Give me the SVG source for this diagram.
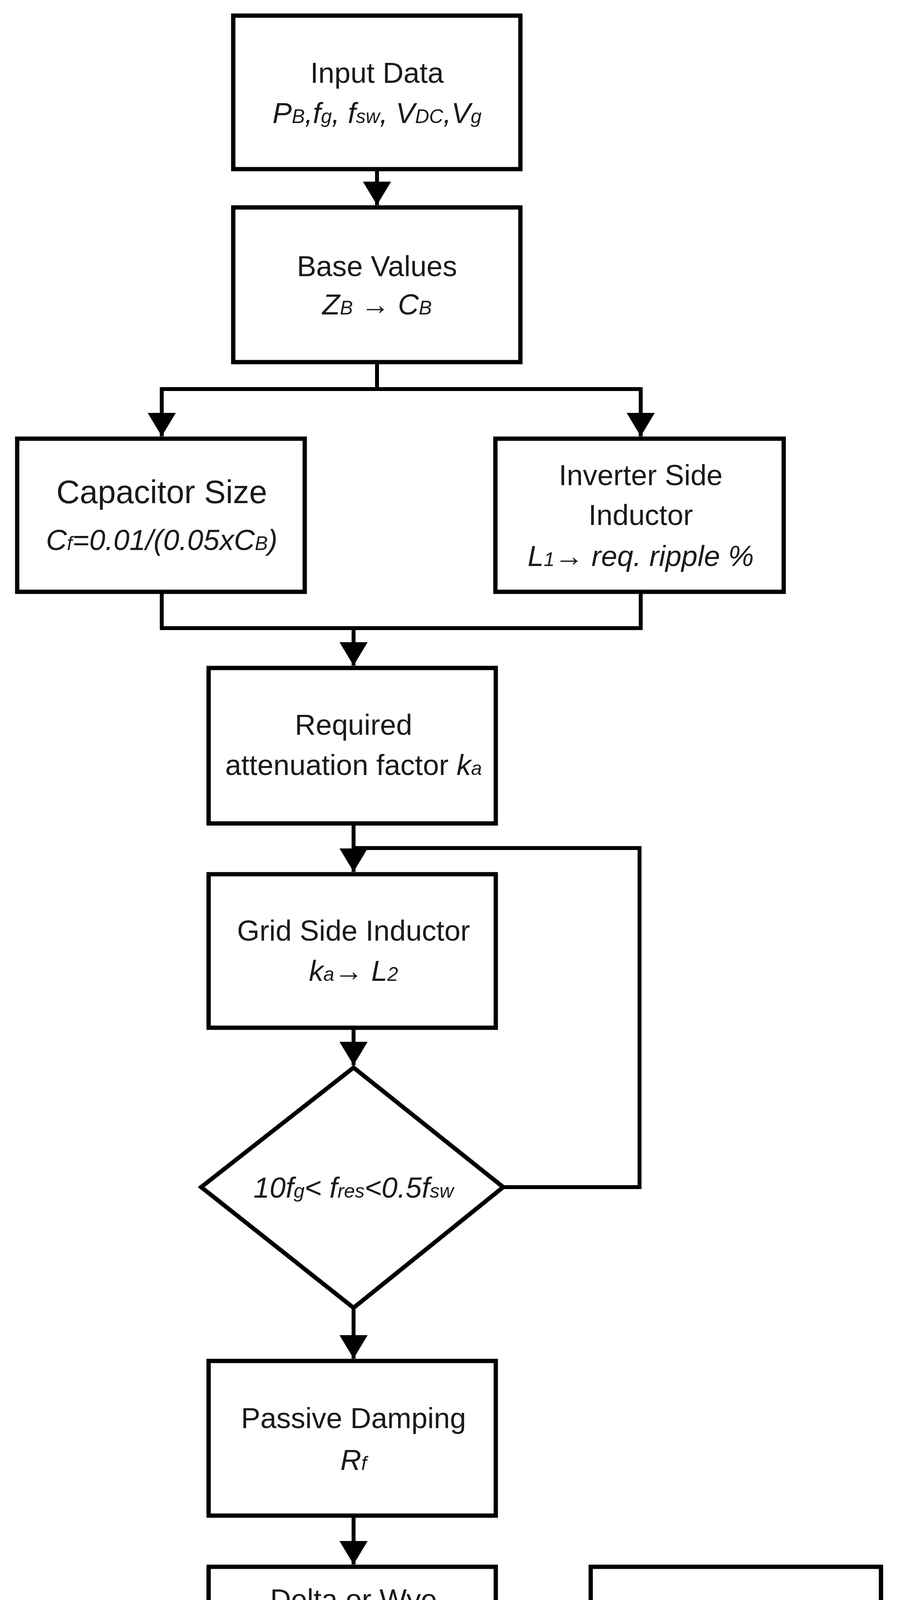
<svg xmlns="http://www.w3.org/2000/svg" width="2296" height="4451" viewBox="0 0 2296 4451">
<style>
.b{fill:#fff;stroke:#000;stroke-width:11}
.c{fill:none;stroke:#000;stroke-width:10}
text{font-family:"Liberation Sans",Arial,sans-serif;font-size:74px;fill:#1a1a1a;text-anchor:middle}
.i{font-style:italic}
.s{font-size:50px}
</style>
<defs><marker id="a" markerUnits="userSpaceOnUse" markerWidth="60" markerHeight="72" refX="60" refY="30" orient="auto" viewBox="0 0 60 60" preserveAspectRatio="none"><path d="M0,0L60,30L0,60Z" fill="#000"/></marker></defs>
<rect width="2296" height="4451" fill="#fff"/>
<g id="connectors">
<path class="c" d="M965,433V525" marker-end="url(#a)"/>
<path class="c" d="M965,927V996H414V1117" marker-end="url(#a)"/>
<path class="c" d="M965,996H1640V1117" marker-end="url(#a)"/>
<path class="c" d="M414,1515V1608H1640V1515"/>
<path class="c" d="M905,1608V1704" marker-end="url(#a)"/>
<path class="c" d="M905,2108V2232" marker-end="url(#a)"/>
<path class="c" d="M1288,3039H1637V2171H905"/>
<path class="c" d="M905,2631V2727" marker-end="url(#a)"/>
<path class="c" d="M905,3348V3478" marker-end="url(#a)"/>
<path class="c" d="M905,3880V4005" marker-end="url(#a)"/>
<path class="c" d="M1269,4209H1506" marker-end="url(#a)"/>
</g>
<g id="input"><rect class="b" x="597" y="40" width="735" height="393"/>
<text x="965" y="212">Input Data</text>
<text x="965" y="315" class="i">P<tspan class="s">B</tspan>,f<tspan class="s">g</tspan>, f<tspan class="s">sw</tspan>, V<tspan class="s">DC</tspan>,V<tspan class="s">g</tspan></text></g>
<g id="base"><rect class="b" x="597" y="531" width="735" height="396"/>
<text x="965" y="707">Base Values</text>
<text x="965" y="805" class="i">Z<tspan class="s">B</tspan> → C<tspan class="s">B</tspan></text></g>
<g id="capacitor"><rect class="b" x="44" y="1123" width="736" height="392"/>
<text x="414" y="1288" style="font-size:83px">Capacitor Size</text>
<text x="414" y="1408" class="i">C<tspan class="s">f</tspan>=0.01/(0.05xC<tspan class="s">B</tspan>)</text></g>
<g id="inverter"><rect class="b" x="1268" y="1123" width="738" height="392"/>
<text x="1640" y="1242">Inverter Side</text>
<text x="1640" y="1344">Inductor</text>
<text x="1640" y="1449" class="i">L<tspan class="s">1</tspan>→ req. ripple %</text></g>
<g id="required"><rect class="b" x="534" y="1710" width="735" height="398"/>
<text x="905" y="1881">Required</text>
<text x="905" y="1984">attenuation factor <tspan class="i">k<tspan class="s">a</tspan></tspan></text></g>
<g id="grid"><rect class="b" x="534" y="2238" width="735" height="393"/>
<text x="905" y="2408">Grid Side Inductor</text>
<text x="905" y="2511" class="i">k<tspan class="s">a</tspan>→ L<tspan class="s">2</tspan></text></g>
<g id="decision"><path class="b" d="M905,2733L1288,3039L905,3348L515,3039Z"/>
<text x="905" y="3066" class="i">10f<tspan class="s">g</tspan>&lt; f<tspan class="s">res</tspan>&lt;0.5f<tspan class="s">sw</tspan></text></g>
<g id="passive"><rect class="b" x="534" y="3484" width="735" height="396"/>
<text x="905" y="3656">Passive Damping</text>
<text x="905" y="3763" class="i">R<tspan class="s">f</tspan></text></g>
<g id="delta"><rect class="b" x="534" y="4011" width="735" height="396"/>
<text x="905" y="4120">Delta or Wye</text>
<text x="905" y="4222">Configuration of</text>
<text x="905" y="4339" class="i">R<tspan class="s">f</tspan>, C<tspan class="s">f</tspan></text></g>
<g id="cores"><rect class="b" x="1512" y="4011" width="743" height="396"/>
<text x="1884" y="4183">Cores, Windings,</text>
<text x="1884" y="4281">Number of Turns</text></g>
</svg>
